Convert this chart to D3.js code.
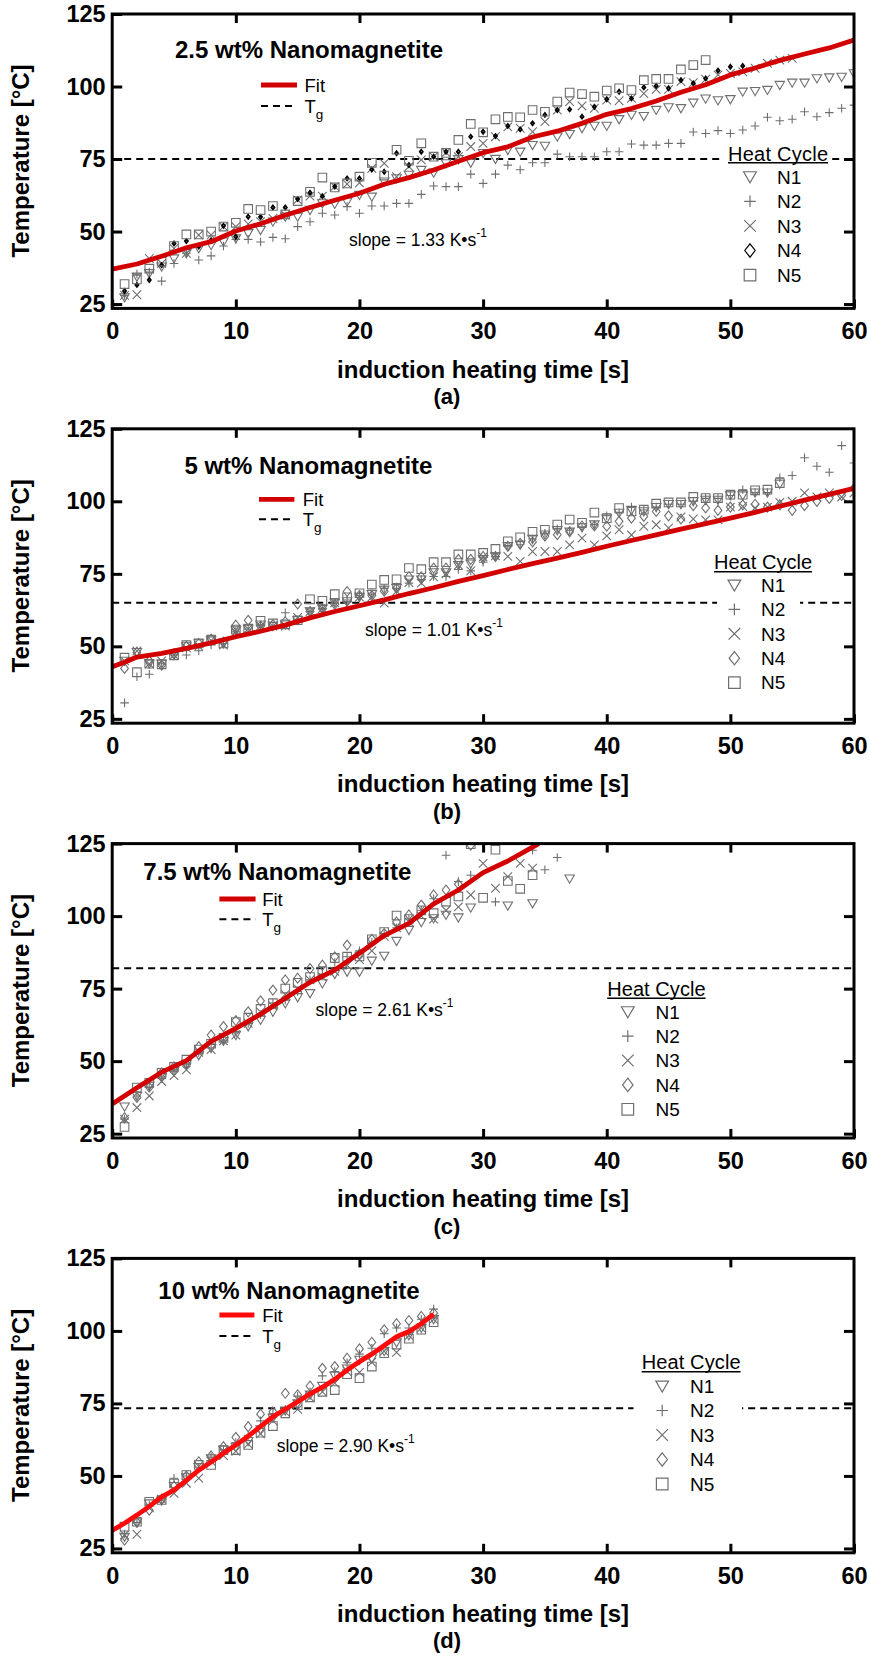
<!DOCTYPE html>
<html><head><meta charset="utf-8">
<script src="https://cdn.jsdelivr.net/npm/d3@7"></script>
<style>body{margin:0;background:#fff} svg text{font-family:"Liberation Sans",Arial,Helvetica,sans-serif}</style>
</head><body><svg id="chart" width="870" height="1656"></svg>
<script>
// ---------------- DATA ----------------
const seconds = [1,2,3,4,5,6,7,8,9,10,11,12,13,14,15,16,17,18,19,20,21,22,23,24,25,26,27,28,29,30,31,32,33,34,35,36,37,38,39,40,41,42,43,44,45,46,47,48,49,50,51,52,53,54,55,56,57,58,59,60];
const xTicks = [0,10,20,30,40,50,60];
const yTicks = [25,50,75,100,125];
const seriesNames = ["N1","N2","N3","N4","N5"];
const panelTitles = ["2.5 wt% Nanomagnetite","5 wt% Nanomagnetite","7.5 wt% Nanomagnetite","10 wt% Nanomagnetite"];
const panelLetters = ["(a)","(b)","(c)","(d)"];
const slopes = ["1.33","1.01","2.61","2.90"];
const tgValues = [75,65,82,73.3];

// (a) 2.5 wt%
const a_N1 = [27.3,34.4,35.6,37.9,40.7,42.5,44.2,45.3,46.5,47.6,49.4,50.5,53.4,55.1,55.1,57.4,59.7,59.5,60.3,62.6,62,67.2,68.3,69.5,71.2,70.3,73.5,74.9,73.7,77,75,78.1,77.5,79.8,79.5,82.7,83.6,85.6,86.4,86.4,88.7,90.2,89.8,91.9,92.8,92.5,94.4,95.8,95.2,95.6,98.2,98.4,98.8,100.5,101.3,101.3,102.8,103.1,103.3,104.5];
const a_N2 = [28,35.3,36,32.9,39,42.5,40.2,41.6,45,47.3,47.3,46.4,48,47.5,51.7,53.4,56.3,55.7,58.6,56.3,58.8,58.8,59.7,59.7,62.8,65.7,65.5,65.5,69.8,66.6,69.8,72.9,71.3,73.7,73.7,76.7,75.8,75.8,75.8,77.5,77.5,80.2,79.8,79.8,80.4,80.4,84.3,83.8,84.8,83.8,85,86.4,89.4,88.2,88.7,91.3,89.6,91,92.5,93.6];
const a_N3 = [28,28.2,40.7,39,44.2,42.5,48.8,48.8,51.7,51.7,52.6,53.4,54.5,55.7,60.9,62.2,62.2,65.5,66.4,66.8,71.8,73.5,68.9,72.4,74.7,75.8,77.2,75.8,79.3,80.4,82.7,86.1,85.6,84.4,87.9,91.9,94.8,93.3,92.5,95.3,95.1,95.9,97.6,99,99,101.7,101.3,102.5,104,104.5,105.1,106.3,108,109.1,109.7,null,null,null,null,null];
const a_N4 = [29.5,31.6,33.3,38.4,45.9,46.7,44.8,47,52,48.2,55.1,55,58.3,58.3,61.2,63.4,62.2,65.5,68.3,68.3,71.4,70.6,77,72.9,77.5,75.8,77.5,77.5,82.7,84.4,82.9,86.4,85.2,87.3,90.2,91.9,92.1,89.6,93,95.6,98.2,95.9,99.7,100.2,99.4,102.2,101.1,102.8,105.5,106.8,107.1,null,null,null,null,null,null,null,null,null];
const a_N5 = [31.9,33.5,37.2,39.6,45,49,49,50,51.7,53,57.8,57.4,58.8,55.9,60.5,63.7,68.6,65.2,66.6,68.9,73.7,69.3,78.2,74.4,80.4,75.8,77.1,81.6,87.1,84.2,88.7,89.5,89.4,91.9,91.3,94.8,97.9,97.4,96.5,98.6,99.4,98.8,102.2,102.6,102.6,105.9,107.4,109.1,null,null,null,null,null,null,null,null,null,null,null,null];
const a_fitT = [0,2,4,6,8,10,12,14,16,18,20,22,24,26,28,30,32,34,36,38,40,42,44,46,48,50,52,54,56,58,60];
const a_fitV = [37,38.8,41.5,44.4,46.5,50.2,52.7,55.6,58.3,60.8,63.2,66.3,68.6,71.2,74.2,77.2,79.2,82.6,84.6,87.3,90.4,92.4,95,98,100.6,104,106.4,109,111.2,113.3,116];

// (b) 5 wt%
const b_N1 = [45,48,44,44,47,50,51,52,51,55.5,56,57.5,57,57.5,59,62,63,65,65.5,67,68,69.5,70,73,73,75.5,75.5,78,78.5,80,81,84.5,85,87,88.5,90,89.5,91,92,94,96,97,96.5,98,99,99,100,100.5,100.5,102,102,103,103,106,null,null,null,null,null,null];
const b_N2 = [30.5,39.5,40.4,44,47,47,48.5,50.5,51,55,56,57,57,61.6,59,62,63,65,66,67.5,68,70,70,71.8,73,74.1,74.1,76.5,76,79,81,84.5,85,87,89,90.5,90,91,92,95,96,98,97,98,99,99,100,101,101,102,104,103,103,108.1,108.9,115,112.1,110,119.2,113.2];
const b_N3 = [45,48.4,44,45,47,49.5,50,52,50.4,55,56,57,57,57,60,62,63,65,64,67,67,64.9,69,72,71.8,74,75,78,76,80.8,81.2,81,79.3,82.7,82.7,82.7,85,87.3,85,88.1,90.2,88.4,91.4,91.9,90.8,94.6,93.9,93.6,93.6,98,98.2,97.7,98,99.6,100,102.9,101.5,102.9,101.5,102.9];
const b_N4 = [42.4,48,45,43.5,47.5,50,51,52.5,51.5,57.3,59,57,57.5,58.5,64.6,62,63,64.5,68.9,67.5,67.5,69,70,74,74,77,77,80,80,81,81,84.5,85.5,86,88,88.5,89.5,91.5,91.5,91.4,93.1,94.2,94.8,96.5,95,93.9,98.5,97.7,96.9,98,98.8,99,98,98.8,96.9,98.5,100,101,102,104.5];
const b_N5 = [46.1,41.1,44,43.8,46.9,50.4,51,52.3,51,55.8,56.1,58.8,57.9,57.6,59,66.2,65.7,68,66.9,68.3,71.3,72.9,73.1,77,76.6,79,79,81.7,81.7,82.2,83.6,86.2,87.6,89.5,90.2,92,93.7,92.6,96.1,94.2,97.7,96.5,97.1,99.2,99.6,99.6,101.5,101.1,101.1,102.3,102.3,103.8,104,106.3,null,null,null,null,null,null];
const b_fitT = [0,1,2,4,6,8,10,12,14,16,18,20,22,24,26,28,30,32,34,36,38,40,42,44,46,48,50,52,54,56,58,60];
const b_fitV = [43,44.5,46.3,47.6,49.3,51.2,53.3,55.2,57.3,59.8,62,64,66,68.2,70.2,72.4,74.4,76.5,78.5,80.4,82.4,84.5,86.5,88.4,90.4,92.3,94.2,96.2,98.3,100.4,102.4,104.5];

// (c) 7.5 wt%
const c_N1 = [34.3,38,41.5,44.5,46.5,49,52,54.5,57,59,62,64.2,67,69.9,72,73.4,76.8,80,80.8,80.8,84.6,86.3,91.4,95.2,97.9,99.2,100.4,99.5,102.9,null,null,103.6,null,104.4,null,null,112.9];
const c_N2 = [30,38,41,44,47,49,53,56,57,60,63,66,70,71,74,78,80,84,86,88,91,94,96,99,102,106,121,111.9,114.1,null,104.9,null,null,122.7,116,120.2,null];
const c_N3 = [30,34,38,43,45,47,53,54,57,59,63,67,69,73,75,78,79,81,83,85,88,93,96,98,100,99,102,103.2,107.3,118.2,109.6,113.6,118.2,116.5,null,null,null];
const c_N4 = [30.5,37.5,41,46,48,49,55,59,61.9,64,67,70.8,74.5,78,78.6,81.9,83.1,86,90,87,92,94,98,100.4,103.8,107.3,109,111,124.5,null,null,null,null,null,null,null,null];
const c_N5 = [27.3,40.9,42.5,46,48,50.5,54,56,58,63.5,65,68,70,75,77,79,81,85.6,86,86.1,92,94.5,100.2,99,102,101,105,106.8,124.8,106.3,122.9,112.1,109.4,114.1,null,null,null];
const c_fitT = [0,2,4,6,8,10,12,14,16,18,20,22,24,26,28,30,32,34,34.5];
const c_fitV = [35.2,40.8,46.2,50.2,56.8,61.3,66.2,71.7,77.2,81.4,87.2,93.3,97.5,104.2,109,115,119,123.8,125];

// (d) 10 wt%
const d_N1 = [29,34,40.5,41.5,46.5,49.5,53,56,59,60,62,66,70,72.5,75,78,81,84.5,87,90,90.5,93,96,98.5,101,104];
const d_N2 = [30,34,40,42,49.2,50,53,56.5,59,61.5,64,69,71.5,73,77.5,79,84.5,86,89,92,94,99,101,101,104,107.5];
const d_N3 = [29.7,29.9,39,42,44,47.5,49.2,55,57,58.5,61,64.5,69,72,73,77,79,82,86,85.7,89.2,93,92.6,98.4,101,104];
const d_N4 = [27.9,34,38.2,42,46.5,50,54.9,56.9,60.1,63.3,67,71.3,72.1,78.5,78,81,87.1,87.7,90.6,93.8,96.1,100.4,102.5,103.6,105,106.2];
const d_N5 = [32.5,34.2,41.1,41.7,47.4,50.3,53.8,53.8,58.9,58.9,60.7,64.9,67.2,71.6,74.4,77.1,79,79.6,85.1,83.7,87.7,92.3,95.3,97.3,100.4,103];
const d_fitT = [0,1,2,3,4,5,6,7,8,9,10,11,12,13,14,15,16,17,18,19,20,21,22,23,24,25,26];
const d_fitV = [31.2,33.7,36.5,39.5,42.8,45.1,48.5,52,54.8,57.8,60.7,63.7,67.1,70.4,73,75.6,78.3,80.6,83.3,86.5,89.4,92,95,98,99.8,102.5,105.8];

// ---------------- LAYOUT ----------------
const FONT = '"Liberation Sans",Arial,Helvetica,sans-serif';
const SERIF = '"Liberation Serif","Times New Roman",serif';
const svg = d3.select("#chart");
svg.append("rect").attr("width",870).attr("height",1656).attr("fill","#fff");

const X0 = 112.2, X1 = 854;
const MARK = "#6f6f6f";

function symPath(kind, r){
  switch(kind){
    case 0: return `M${-r*1.1},${-r*0.85}L${r*1.1},${-r*0.85}L0,${r*1.05}Z`;
    case 1: return `M${-r},0H${r}M0,${-r}V${r}`;
    case 2: return `M${-r},${-r}L${r},${r}M${-r},${r}L${r},${-r}`;
    case 3: return `M0,${-r*1.15}L${r*0.9},0L0,${r*1.15}L${-r*0.9},0Z`;
    case 4: return `M${-r},${-r}H${r}V${r}H${-r}Z`;
  }
}

const panels = [
  {top:14, series:[a_N1,a_N2,a_N3,a_N4,a_N5], fitT:a_fitT, fitV:a_fitV, fitColor:"#d20000", darkN4:true,
   titleX:175, titleY:43.6, legFitX:[261,297], legTextX:304.5, legFitY:71, legTgY:92,
   hcX:728, hcW:100, hcY:146.5, ulY:148.7, symX:750, nX:777, row0:162.7, rowStep:24.6, slopeX:349, slopeY:231.5,
   boxX:[722,831]},
  {top:428.8, series:[b_N1,b_N2,b_N3,b_N4,b_N5], fitT:b_fitT, fitV:b_fitV, fitColor:"#d20000", darkN4:false,
   titleX:184.4, titleY:44.8, legFitX:[259,294.4], legTextX:302.8, legFitY:70.5, legTgY:90.5,
   hcX:714, hcW:98, hcY:140.5, ulY:142.9, symX:734.4, nX:761, row0:156.2, rowStep:24.4, slopeX:365, slopeY:207.4,
   boxX:[717,800]},
  {top:843.6, series:[c_N1,c_N2,c_N3,c_N4,c_N5], fitT:c_fitT, fitV:c_fitV, fitColor:"#d20000", darkN4:false,
   titleX:143.3, titleY:36.7, legFitX:[219.4,255.6], legTextX:262.2, legFitY:55.4, legTgY:75.7,
   hcX:607.2, hcW:98.4, hcY:152.5, ulY:154.7, symX:627.8, nX:655.6, row0:168.1, rowStep:24.4, slopeX:315.6, slopeY:171.9,
   boxX:[600,708]},
  {top:1258.4, series:[d_N1,d_N2,d_N3,d_N4,d_N5], fitT:d_fitT, fitV:d_fitV, fitColor:"#ff0a0a", darkN4:false,
   titleX:158.3, titleY:40.9, legFitX:[219.4,254.4], legTextX:262.2, legFitY:56.6, legTgY:77.6,
   hcX:641.7, hcW:98.9, hcY:111, ulY:113.3, symX:662.2, nX:690, row0:127.6, rowStep:24.5, slopeX:276.7, slopeY:193.8,
   boxX:[633.5,742]}
];

panels.forEach((p, pi) => {
  const T = p.top;
  const x = d3.scaleLinear().domain([0,60]).range([X0,X1]);
  const y = d3.scaleLinear().domain([23.5,125]).range([T+294.4, T]);
  const g = svg.append("g");
  const clipId = "clip"+pi;
  g.append("clipPath").attr("id",clipId).append("rect")
    .attr("x",X0).attr("y",T).attr("width",X1-X0).attr("height",294.4);
  const plot = g.append("g").attr("clip-path",`url(#${clipId})`);

  // Tg line
  plot.append("line").attr("x1",X0).attr("x2",X1)
    .attr("y1",y(tgValues[pi])).attr("y2",y(tgValues[pi]))
    .attr("stroke","#000").attr("stroke-width",2).attr("stroke-dasharray","7,5");

  // markers
  p.series.forEach((vals, k) => {
    const pts = seconds.map((t,i)=>[t, vals[i]]).filter(d => d[1] !== null && d[1] !== undefined);
    const dark = (k===3 && p.darkN4);
    plot.append("g").selectAll("path").data(pts).join("path")
      .attr("transform", d => `translate(${x(d[0])},${y(d[1])})`)
      .attr("d", symPath(k, dark ? 1.7 : 4.3))
      .attr("fill", "none")
      .attr("stroke", dark ? "#000" : MARK)
      .attr("stroke-width", dark ? 1.8 : 1.1);
  });

  // fit line
  const line = d3.line().x(d=>x(d[0])).y(d=>y(d[1]));
  plot.append("path").datum(p.fitT.map((t,i)=>[t,p.fitV[i]]))
    .attr("d", line).attr("fill","none").attr("stroke",p.fitColor).attr("stroke-width",4.8)
    .attr("stroke-linejoin","round");

  // axes
  const ax = g.append("g").attr("transform",`translate(0,${T+294.4})`)
    .call(d3.axisBottom(x).tickValues(xTicks).tickSize(-9).tickPadding(14.3));
  const ay = g.append("g").attr("transform",`translate(${X0},0)`)
    .call(d3.axisLeft(y).tickValues(yTicks).tickSize(-10).tickPadding(6.6));
  const at = g.append("g").attr("transform",`translate(0,${T})`)
    .call(d3.axisTop(x).tickValues(xTicks.slice(1,-1)).tickSize(-9).tickFormat(""));
  const ar = g.append("g").attr("transform",`translate(${X1},0)`)
    .call(d3.axisRight(y).tickValues(yTicks.slice(0,-1)).tickSize(-10).tickFormat(""));
  [ax,ay,at,ar].forEach(a => {
    a.select(".domain").remove();
    a.selectAll(".tick line").attr("stroke","#000").attr("stroke-width",3);
    a.attr("font-family",FONT).attr("font-size",23.5).attr("font-weight","bold");
    a.selectAll("text").attr("fill","#000");
  });

  // frame
  g.append("rect").attr("x",X0).attr("y",T).attr("width",X1-X0).attr("height",294.4)
    .attr("fill","none").attr("stroke","#000").attr("stroke-width",3);

  // axis titles
  g.append("text").attr("x",(X0+X1)/2).attr("y",T+363.5).attr("text-anchor","middle")
    .attr("font-family",FONT).attr("font-size",24).attr("font-weight","bold")
    .text("induction heating time [s]");
  g.append("text").attr("transform",`translate(28.5,${T+147}) rotate(-90)`).attr("text-anchor","middle")
    .attr("font-family",FONT).attr("font-size",24).attr("font-weight","bold")
    .text("Temperature [°C]");
  g.append("text").attr("x",447).attr("y",T+390).attr("text-anchor","middle")
    .attr("font-family",SERIF).attr("font-size",22).attr("font-weight","bold")
    .text(panelLetters[pi]);

  // panel title
  g.append("text").attr("x",p.titleX).attr("y",T+p.titleY)
    .attr("font-family",FONT).attr("font-size",24).attr("font-weight","bold")
    .text(panelTitles[pi]);

  // Fit / Tg legend
  g.append("line").attr("x1",p.legFitX[0]).attr("x2",p.legFitX[1])
    .attr("y1",T+p.legFitY).attr("y2",T+p.legFitY).attr("stroke",p.fitColor).attr("stroke-width",4.8);
  g.append("text").attr("x",p.legTextX).attr("y",T+p.legFitY+6.6)
    .attr("font-family",FONT).attr("font-size",18.5).text("Fit");
  g.append("line").attr("x1",p.legFitX[0]).attr("x2",p.legFitX[1])
    .attr("y1",T+p.legTgY).attr("y2",T+p.legTgY).attr("stroke","#000").attr("stroke-width",2)
    .attr("stroke-dasharray","7,5");
  const tg = g.append("text").attr("x",p.legTextX).attr("y",T+p.legTgY+6.6)
    .attr("font-family",FONT).attr("font-size",18.5);
  tg.append("tspan").text("T");
  tg.append("tspan").attr("font-size",13.5).attr("dy",6).text("g");

  // slope annotation
  const sl = g.append("text").attr("x",p.slopeX).attr("y",T+p.slopeY)
    .attr("font-family",FONT).attr("font-size",17.5);
  sl.append("tspan").text(`slope = ${slopes[pi]} K•s`);
  sl.append("tspan").attr("font-size",12).attr("dy",-9).text("-1");

  // Heat Cycle legend
  const lastRow = p.row0 + 4*p.rowStep;
  g.append("rect").attr("x",p.boxX[0]).attr("y",T+p.hcY-17).attr("width",p.boxX[1]-p.boxX[0])
    .attr("height",lastRow-p.hcY+30).attr("fill","#fff");
  g.append("text").attr("x",p.hcX).attr("y",T+p.hcY).attr("textLength",p.hcW)
    .attr("font-family",FONT).attr("font-size",20).text("Heat Cycle");
  g.append("line").attr("x1",p.hcX).attr("x2",p.hcX+p.hcW).attr("y1",T+p.ulY).attr("y2",T+p.ulY)
    .attr("stroke","#000").attr("stroke-width",1.6);
  seriesNames.forEach((nm,k) => {
    const yy = T + p.row0 + k*p.rowStep;
    const dark = (k===3 && p.darkN4);
    g.append("path").attr("transform",`translate(${p.symX},${yy})`)
      .attr("d",symPath(k,5.8)).attr("fill","none")
      .attr("stroke", dark ? "#000" : MARK).attr("stroke-width",1.2);
    g.append("text").attr("x",p.nX).attr("y",yy+6.8)
      .attr("font-family",FONT).attr("font-size",19).text(nm);
  });
});
</script></body></html>
